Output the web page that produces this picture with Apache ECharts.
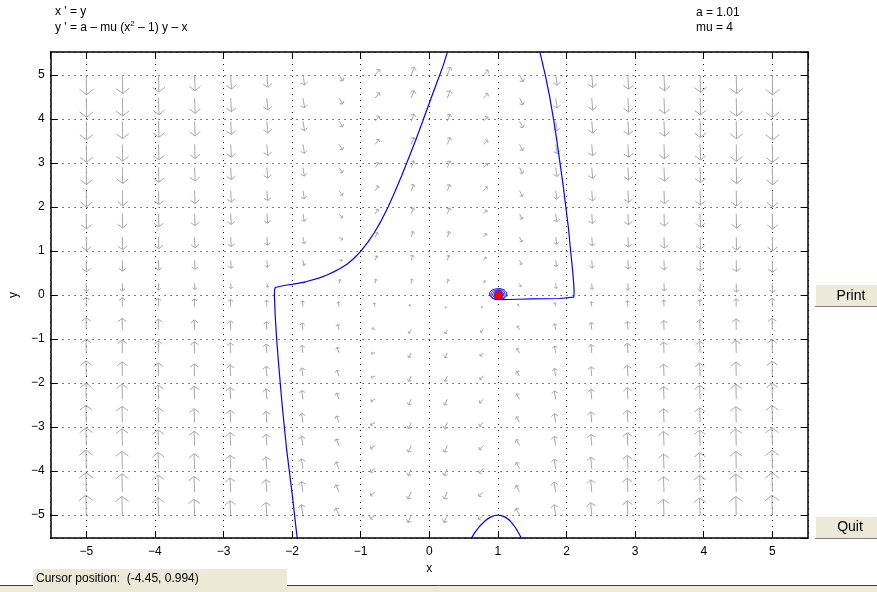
<!DOCTYPE html>
<html>
<head>
<meta charset="utf-8">
<title>pplane</title>
<script src="https://cdn.jsdelivr.net/npm/echarts@6/dist/echarts.min.js"></script>
<style>
html, body { margin: 0; padding: 0; background: #fff; }
#main { width: 877px; height: 592px; }
</style>
</head>
<body>
<div id="main"></div>
<script>
//---------- direction field (20 x 20 points) ----------
var fieldX = [-5, -4.474, -3.947, -3.421, -2.895, -2.368, -1.842, -1.316, -0.789, -0.263,
              0.263, 0.789, 1.316, 1.842, 2.368, 2.895, 3.421, 3.947, 4.474, 5];
var fieldY = [-5, -4.474, -3.947, -3.421, -2.895, -2.368, -1.842, -1.316, -0.789, -0.263,
              0.263, 0.789, 1.316, 1.842, 2.368, 2.895, 3.421, 3.947, 4.474, 5];
// x' for each row
var fieldU = [-5, -4.47, -3.95, -3.42, -2.89, -2.37, -1.84, -1.32, -0.79, -0.26,
              0.26, 0.79, 1.32, 1.84, 2.37, 2.89, 3.42, 3.95, 4.47, 5];
// y' for each column, bottom row -> top row
var fieldV = [
  [486, 436, 385, 334, 284, 233, 183, 132, 82, 31, -19, -70, -120, -171, -221, -272, -322, -373, -424, -474],
  [386, 346, 306, 266, 226, 186, 146, 106, 66, 26, -15, -55, -95, -135, -175, -215, -255, -295, -335, -375],
  [297, 266, 235, 205, 174, 143, 112, 82, 51, 20, -10, -41, -72, -102, -133, -164, -195, -225, -256, -287],
  [219, 196, 173, 151, 128, 106, 83, 61, 38, 16, -7, -29, -52, -74, -97, -120, -142, -165, -187, -210],
  [152, 136, 120, 105, 89, 74, 58, 43, 27, 12, -4, -19, -35, -51, -66, -82, -97, -113, -128, -144],
  [95.5, 85.8, 76.1, 66.4, 56.7, 47.0, 37.3, 27.6, 17.9, 8.2, -1.5, -11.2, -20.9, -30.6, -40.3, -50.0, -59.7, -69.4, -79.1, -88.8],
  [50.7, 45.7, 40.6, 35.6, 30.6, 25.5, 20.5, 15.4, 10.4, 5.4, 0.3, -4.7, -9.7, -14.8, -19.8, -24.9, -29.9, -34.9, -40.0, -45.0],
  [17.0, 15.4, 13.9, 12.4, 10.8, 9.3, 7.7, 6.2, 4.6, 3.1, 1.6, 0.0, -1.5, -3.1, -4.6, -6.2, -7.7, -9.2, -10.8, -12.3],
  [-5.75, -4.96, -4.16, -3.37, -2.57, -1.78, -0.98, -0.19, 0.61, 1.40, 2.20, 2.99, 3.79, 4.58, 5.38, 6.17, 6.97, 7.76, 8.56, 9.35],
  [-17.3, -15.4, -13.4, -11.5, -9.5, -7.5, -5.6, -3.6, -1.7, 0.3, 2.3, 4.2, 6.2, 8.1, 10.1, 12.0, 14.0, 16.0, 17.9, 19.9],
  [-17.9, -15.9, -13.9, -12.0, -10.0, -8.1, -6.1, -4.2, -2.2, -0.2, 1.7, 3.7, 5.7, 7.6, 9.6, 11.5, 13.5, 15.4, 17.4, 19.4],
  [-7.33, -6.54, -5.74, -4.95, -4.15, -3.36, -2.56, -1.77, -0.97, -0.18, 0.62, 1.41, 2.21, 3.00, 3.80, 4.59, 5.39, 6.18, 6.98, 7.77],
  [14.3, 12.8, 11.3, 9.7, 8.2, 6.6, 5.1, 3.6, 2.0, 0.5, -1.1, -2.6, -4.2, -5.7, -7.3, -8.8, -10.3, -11.9, -13.4, -15.0],
  [47.0, 42.0, 36.9, 31.9, 26.9, 21.8, 16.8, 11.8, 6.7, 1.7, -3.4, -8.4, -13.4, -18.5, -23.5, -28.5, -33.6, -38.6, -43.7, -48.7],
  [90.8, 81.1, 71.4, 61.7, 52.0, 42.3, 32.6, 22.9, 13.2, 3.5, -6.2, -15.9, -25.6, -35.3, -45.0, -54.7, -64.4, -74.1, -83.8, -93.5],
  [146, 130, 115, 99, 84, 68, 53, 37, 21, 6, -10, -25, -41, -56, -72, -87, -103, -118, -134, -149],
  [212, 189, 167, 144, 122, 99, 77, 54, 31, 9, -14, -36, -59, -81, -104, -126, -149, -171, -194, -217],
  [289, 258, 227, 197, 166, 135, 105, 74, 43, 12, -18, -49, -80, -110, -141, -172, -202, -233, -264, -295],
  [377, 337, 297, 257, 217, 177, 137, 97, 57, 17, -24, -64, -104, -144, -184, -224, -264, -304, -344, -384],
  [476, 426, 375, 324, 274, 223, 173, 122, 72, 21, -29, -80, -130, -181, -231, -282, -332, -383, -434, -484]
];

//---------- solution curves ----------
var orbitLeft = [
  [-1.92, -5.6], [-2.0, -4.5], [-2.08, -3.5], [-2.145, -2.5], [-2.2, -1.5], [-2.225, -1.0],
  [-2.245, -0.5], [-2.258, 0], [-2.255, 0.12], [-2.245, 0.17], [-2.22, 0.195], [-2.1, 0.222],
  [-2.0, 0.242], [-1.8, 0.3], [-1.6, 0.39], [-1.5, 0.45], [-1.4, 0.52], [-1.3, 0.6], [-1.2, 0.7],
  [-1.1, 0.83], [-1.0, 0.99], [-0.9, 1.19], [-0.8, 1.42], [-0.7, 1.69], [-0.6, 2.0], [-0.5, 2.35],
  [-0.4, 2.72], [-0.3, 3.11], [-0.2, 3.51], [-0.1, 3.93], [0, 4.36], [0.1, 4.78], [0.2, 5.2], [0.28, 5.6]
];
var orbitRight = [
  [1.6, 5.6], [1.69, 5.0], [1.755, 4.5], [1.81, 4.0], [1.86, 3.5], [1.905, 3.0], [1.95, 2.5],
  [1.99, 2.0], [2.03, 1.5], [2.06, 1.0], [2.08, 0.7], [2.095, 0.45], [2.105, 0.25], [2.11, 0.1],
  [2.11, 0], [2.105, -0.05], [2.09, -0.075], [1.9, -0.08], [1.7, -0.085], [1.5, -0.09],
  [1.3, -0.097], [1.15, -0.102], [1.06, -0.105]
];
var orbitSpiral = [
  [1.06, -0.105], [0.99, -0.105], [0.93, -0.08], [0.89, -0.03], [0.88, 0.03], [0.9, 0.09],
  [0.95, 0.13], [1.01, 0.145], [1.07, 0.13], [1.115, 0.08], [1.13, 0.02], [1.115, -0.04],
  [1.07, -0.085], [1.01, -0.1], [0.95, -0.085], [0.91, -0.04], [0.9, 0.02], [0.92, 0.075],
  [0.965, 0.11], [1.02, 0.12], [1.07, 0.1], [1.1, 0.05], [1.105, -0.01], [1.08, -0.06],
  [1.03, -0.08], [0.98, -0.075], [0.94, -0.04], [0.925, 0.01], [0.94, 0.06], [0.98, 0.09],
  [1.03, 0.095], [1.07, 0.06], [1.08, 0.01], [1.065, -0.04], [1.02, -0.06], [0.98, -0.05],
  [0.955, -0.01], [0.96, 0.04], [0.99, 0.065], [1.03, 0.06], [1.05, 0.02]
];
var orbitBottom = [
  [0.58, -5.62], [0.6, -5.56], [0.7, -5.32], [0.8, -5.15], [0.9, -5.04], [1.0, -5.0],
  [1.1, -5.04], [1.2, -5.17], [1.3, -5.4], [1.36, -5.6]
];
var equilibrium = [[1.01, 0]];

var axisMin = -5.52, axisMax = 5.52;

// arrows: [x, y, x', y']
var arrowData = [];
var maxMag = 0;
for (var i = 0; i < fieldX.length; i++) {
  for (var j = 0; j < fieldY.length; j++) {
    var u = fieldU[j], v = fieldV[i][j];
    arrowData.push([fieldX[i], fieldY[j], u, v]);
    maxMag = Math.max(maxMag, Math.sqrt(u * u + v * v));
  }
}

var arrowColor = '#a8a8a8';
function renderArrow(params, api) {
  var u = api.value(2), v = api.value(3);
  var p0 = api.coord([api.value(0), api.value(1)]);
  var unit = api.size([1, 1]);
  var sx = u * unit[0], sy = -v * unit[1];
  var s = Math.sqrt(sx * sx + sy * sy);
  if (!s) return;
  var len = 20 * Math.pow(Math.sqrt(u * u + v * v) / maxMag, 0.28);
  var dx = sx / s, dy = sy / s;
  var tip = [p0[0] + dx * len, p0[1] + dy * len];
  var hl = len * 0.45, a = 52 * Math.PI / 180;
  var ca = Math.cos(a), sa = Math.sin(a);
  var bx = -dx, by = -dy;
  var w1 = [tip[0] + hl * (bx * ca - by * sa), tip[1] + hl * (bx * sa + by * ca)];
  var w2 = [tip[0] + hl * (bx * ca + by * sa), tip[1] + hl * (-bx * sa + by * ca)];
  return {
    type: 'group',
    children: [
      { type: 'line', shape: { x1: p0[0], y1: p0[1], x2: tip[0], y2: tip[1] },
        style: { stroke: arrowColor, lineWidth: 1 } },
      { type: 'polyline', shape: { points: [w1, tip, w2] },
        style: { stroke: arrowColor, lineWidth: 1, fill: null } }
    ]
  };
}

function tickLabel(val) {
  if (Math.abs(val - Math.round(val)) > 1e-6) return '';
  return val < 0 ? '\u2212' + (-val) : String(val);
}

var fontName = '"Liberation Sans", Arial, sans-serif';
var beige = '#ece9d8';

function mainAxis(extra) {
  var ax = {
    type: 'value',
    min: axisMin,
    max: axisMax,
    splitNumber: 11,
    axisLine: { show: true, onZero: false, lineStyle: { color: '#000', width: 1.5 } },
    axisTick: { show: true, inside: true, length: 7, lineStyle: { color: '#000', width: 1 } },
    splitLine: { show: true, lineStyle: { color: '#000', width: 1, type: [1, 5] } },
    nameTextStyle: { color: '#000', fontSize: 12, fontFamily: fontName }
  };
  for (var k in extra) ax[k] = extra[k];
  return ax;
}
function sideAxis(pos) {
  return {
    type: 'value', min: axisMin, max: axisMax, position: pos, splitNumber: 11,
    axisLine: { show: true, onZero: false, lineStyle: { color: '#000', width: 1.5 } },
    axisTick: { show: true, inside: true, length: 7, lineStyle: { color: '#000', width: 1 } },
    splitLine: { show: false },
    axisLabel: { show: false }
  };
}

var myChart = echarts.init(document.getElementById('main'), null, { renderer: 'canvas' });
var option = {
  animation: false,
  backgroundColor: '#fff',
  grid: { left: 49, top: 52, width: 759, height: 486, containLabel: false },
  xAxis: [
    mainAxis({ position: 'bottom', name: 'x', nameLocation: 'middle', nameGap: 25,
               axisLabel: { formatter: tickLabel, showMinLabel: false, showMaxLabel: false,
                            color: '#000', fontSize: 12, fontFamily: fontName, margin: 8 } }),
    sideAxis('top')
  ],
  yAxis: [
    mainAxis({ position: 'left', name: 'y', nameLocation: 'middle', nameGap: 27, nameRotate: 90,
               axisLabel: { formatter: tickLabel, showMinLabel: false, showMaxLabel: false,
                            color: '#000', fontSize: 12, fontFamily: fontName, margin: 6 } }),
    sideAxis('right')
  ],
  series: [
    {
      type: 'custom',
      renderItem: renderArrow,
      data: arrowData,
      encode: { x: 0, y: 1 },
      silent: true,
      clip: true,
      z: 2
    },
    { type: 'line', data: orbitLeft, showSymbol: false, clip: true, z: 3,
      lineStyle: { color: '#0000ff', width: 1.2 } },
    { type: 'line', data: orbitRight, showSymbol: false, clip: true, z: 3,
      lineStyle: { color: '#0000ff', width: 1.2 } },
    { type: 'line', data: orbitSpiral, showSymbol: false, clip: true, smooth: true, z: 3,
      lineStyle: { color: '#0000ff', width: 1 } },
    { type: 'line', data: orbitBottom, showSymbol: false, clip: true, smooth: true, z: 3,
      lineStyle: { color: '#0000ff', width: 1.2 } },
    { type: 'scatter', data: equilibrium, symbol: 'circle', symbolSize: 9, z: 4,
      itemStyle: { color: '#ff0000', borderColor: '#2020ff', borderWidth: 0.6, opacity: 1 } }
  ],
  graphic: [
    // equations and parameters
    { type: 'text', x: 55, y: 12, style: { text: "x ' = y", fill: '#000', font: '12px ' + fontName, verticalAlign: 'middle' } },
    { type: 'text', x: 55, y: 28, style: {
        text: "y ' = a \u2013 mu (x{s|2} \u2013 1) y \u2013 x",
        fill: '#000', font: '12px ' + fontName, verticalAlign: 'middle', lineHeight: 16,
        rich: { s: { fontSize: 8, fontFamily: fontName, verticalAlign: 'top', lineHeight: 16 } } } },
    { type: 'text', x: 696, y: 13, style: { text: 'a = 1.01', fill: '#000', font: '12px ' + fontName, verticalAlign: 'middle' } },
    { type: 'text', x: 696, y: 28, style: { text: 'mu = 4', fill: '#000', font: '12px ' + fontName, verticalAlign: 'middle' } },
    // buttons
    { type: 'rect', shape: { x: 815, y: 284, width: 62, height: 23 }, style: { fill: beige, stroke: null } },
    { type: 'polyline', shape: { points: [[815.5, 307], [815.5, 284.5], [877, 284.5]] }, style: { stroke: '#fff', fill: null, lineWidth: 1 } },
    { type: 'line', shape: { x1: 815, y1: 306.5, x2: 877, y2: 306.5 }, style: { stroke: '#808080', lineWidth: 1 } },
    { type: 'text', x: 851, y: 296, style: { text: 'Print', fill: '#000', font: '14px ' + fontName, align: 'center', verticalAlign: 'middle' } },
    { type: 'rect', shape: { x: 815, y: 516, width: 62, height: 23 }, style: { fill: beige, stroke: null } },
    { type: 'polyline', shape: { points: [[815.5, 539], [815.5, 516.5], [877, 516.5]] }, style: { stroke: '#fff', fill: null, lineWidth: 1 } },
    { type: 'line', shape: { x1: 815, y1: 538.5, x2: 877, y2: 538.5 }, style: { stroke: '#808080', lineWidth: 1 } },
    { type: 'text', x: 850, y: 527, style: { text: 'Quit', fill: '#000', font: '14px ' + fontName, align: 'center', verticalAlign: 'middle' } },
    // status bar
    { type: 'rect', shape: { x: 0, y: 585, width: 877, height: 7 }, style: { fill: beige, stroke: null } },
    { type: 'line', shape: { x1: 0, y1: 585.5, x2: 877, y2: 585.5 }, style: { stroke: '#404040', lineWidth: 1 } },
    { type: 'rect', shape: { x: 33, y: 569, width: 254, height: 23 }, style: { fill: beige, stroke: null } },
    { type: 'text', x: 36, y: 579, style: { text: 'Cursor position:  (-4.45, 0.994)', fill: '#000', font: '12px ' + fontName, verticalAlign: 'middle' } }
  ]
};
myChart.setOption(option);
</script>
</body>
</html>
